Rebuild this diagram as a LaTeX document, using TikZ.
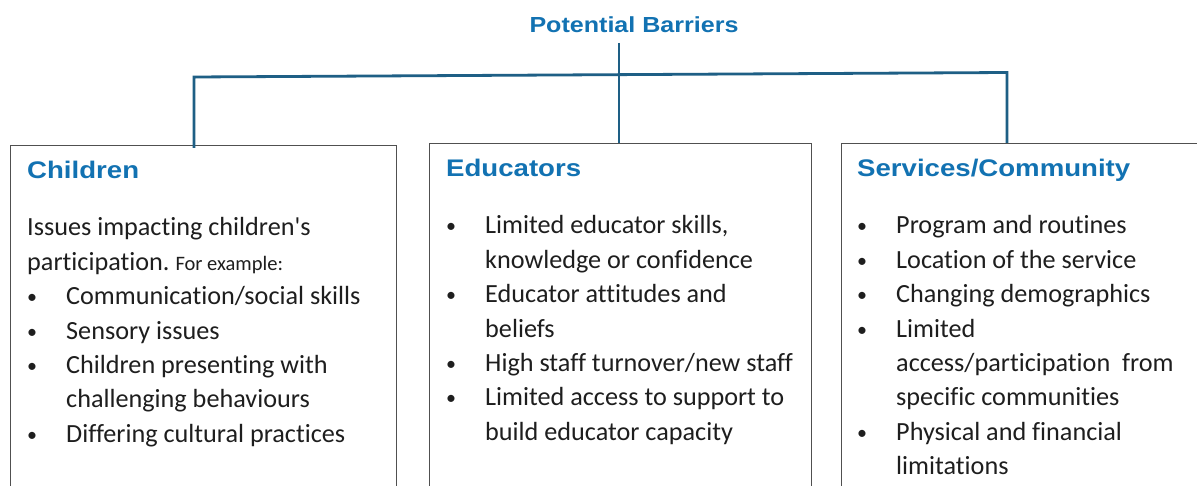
\documentclass[tikz,border=0pt]{standalone}
\usepackage{fontspec}
\setmainfont[Ligatures={NoCommon}]{Carlito}
\newfontfamily\headfont[FakeStretch=1.15]{Liberation Sans}
\definecolor{headblue}{HTML}{1272B2}
\definecolor{linkblue}{HTML}{1E5F85}
\definecolor{boxgray}{HTML}{505050}
\definecolor{bodyink}{HTML}{1E1E1E}
% use the font's own word space (align= would otherwise widen it)
\newcommand{\natsp}{\spaceskip=\fontdimen2\font\relax\xspaceskip=\fontdimen2\font\relax}
% bullet item and continuation line inside the lists
\newcommand{\itm}[1]{\makebox[39pt][l]{\raisebox{1pt}{\fontsize{20}{20}\selectfont\textbullet}}#1}
\newcommand{\cont}[1]{\hspace*{39pt}#1}
\tikzset{
  panel/.style={draw=boxgray, line width=1pt, rectangle, inner sep=0pt, anchor=north west},
  heading/.style={font=\headfont\bfseries\fontsize{24}{28}\selectfont, text=headblue, inner sep=0pt, anchor=base west},
  bodytext/.style={font=\fontsize{26.2}{34.4}\selectfont, text=bodyink, inner sep=0pt, anchor=base west, align=left, text width=360pt},
  link/.style={draw=linkblue, line width=2.8pt}
}
\begin{document}
\begin{tikzpicture}[x=1pt,y=-1pt]
\useasboundingbox (0,0) rectangle (1197,486);
\clip (0,0) rectangle (1197,486);
\fill[white] (0,0) rectangle (1197,486);

% title
\node[font=\headfont\bfseries\fontsize{21.8}{26}\selectfont, text=headblue, inner sep=0pt, anchor=base] (title) at (634,33) {Potential Barriers};

% three panels
\node[panel, minimum width=386pt, minimum height=360pt] (kids) at (10,145) {};
\node[panel, minimum width=382pt, minimum height=360pt] (staff) at (429,143) {};
\node[panel, minimum width=380pt, minimum height=360pt] (comm) at (841,143) {};

% headings
\node[heading] (kidshead) at (27,179) {Children};
\node[heading] (staffhead) at (446,177) {Educators};
\node[heading] (commhead) at (857,177) {Services/Community};

% lists
\node[bodytext] (kidslist) at (27,236) {\natsp Issues impacting children\textquotesingle s\\
participation. {\fontsize{20.5}{34.4}\selectfont\natsp For example:}\\
\itm{Communication/social skills}\\
\itm{Sensory issues}\\
\itm{Children presenting with}\\
\cont{challenging behaviours}\\
\itm{Differing cultural practices}};
\node[bodytext] (stafflist) at (446,234) {\natsp\itm{Limited educator skills,}\\
\cont{knowledge or confidence}\\
\itm{Educator attitudes and}\\
\cont{beliefs}\\
\itm{High staff turnover/new staff}\\
\itm{Limited access to support to}\\
\cont{build educator capacity}};
\node[bodytext] (commlist) at (857,234) {\natsp\itm{Program and routines}\\
\itm{Location of the service}\\
\itm{Changing demographics}\\
\itm{Limited}\\
\cont{access/participation\ \ from}\\
\cont{specific communities}\\
\itm{Physical and financial}\\
\cont{limitations}};

% connector bracket
\coordinate (hubL) at (194,77);
\coordinate (hubR) at (1007,72.5);
\coordinate (hubC) at (619,75);
\coordinate (stem) at (619,43);
\draw[link] (stem) -- (hubC |- staff.north);
\draw[link] (hubL |- kids.north) ++(0,3) -- (hubL) -- (hubR) -- (hubR |- comm.north);
\end{tikzpicture}
\end{document}
